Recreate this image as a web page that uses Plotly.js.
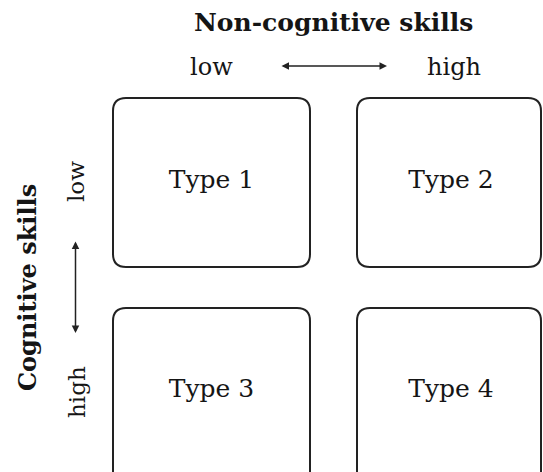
<!DOCTYPE html>
<html>
<head>
<meta charset="utf-8">
<script src="https://cdn.plot.ly/plotly-3.0.1.min.js"></script>
<style>html,body{margin:0;padding:0;background:#fff;}#chart{width:543px;height:472px;}</style>
</head>
<body>
<div id="chart"></div>
<script>
// ---- data ----
const types = ["Type 1", "Type 2", "Type 3", "Type 4"];
const typeCol = [0, 1, 0, 1];   // non-cognitive level index
const typeRow = [0, 0, 1, 1];   // cognitive level index
const nonCogLevels = ["low", "high"];
const cogLevels = ["low", "high"];
const nonCogTitle = "Non-cognitive skills";
const cogTitle = "Cognitive skills";

// ---- layout geometry (pixel-like axis units) ----
const colBounds = [[113, 310], [357, 541]];
const rowBounds = [[98, 267], [308, 485]];
const colText = [211.5, 451];
const rowText = [182, 391];
const FONT = "DejaVu Serif";
const INK = "#151515";

function rr(x0, y0, x1, y1, r) {
  return `M${x0 + r},${y0} L${x1 - r},${y0} Q${x1},${y0} ${x1},${y0 + r} ` +
         `L${x1},${y1 - r} Q${x1},${y1} ${x1 - r},${y1} L${x0 + r},${y1} ` +
         `Q${x0},${y1} ${x0},${y1 - r} L${x0},${y0 + r} Q${x0},${y0} ${x0 + r},${y0} Z`;
}

const shapes = types.map((t, i) => {
  const c = colBounds[typeCol[i]], r = rowBounds[typeRow[i]];
  return {type: "path", xref: "x", yref: "y", path: rr(c[0], r[0], c[1], r[1], 13),
          line: {color: "#222", width: 2}, fillcolor: "rgba(0,0,0,0)"};
});

const trace = {
  type: "scatter", mode: "text",
  x: types.map((t, i) => colText[typeCol[i]]),
  y: types.map((t, i) => rowText[typeRow[i]]),
  text: types,
  textposition: "middle center",
  textfont: {family: FONT, size: 25, color: INK},
  hoverinfo: "skip", showlegend: false
};

const annotations = [
  {x: 333, y: 22, text: "<b>" + nonCogTitle + "</b>", font: {family: FONT, size: 25, color: INK}},
  {x: colText[0], y: 67, text: nonCogLevels[0], font: {family: FONT, size: 24, color: INK}},
  {x: 454, y: 67, text: nonCogLevels[1], font: {family: FONT, size: 24, color: INK}},
  {x: 27, y: 288, text: "<b>" + cogTitle + "</b>", textangle: -90, font: {family: FONT, size: 24, color: INK}},
  {x: 76, y: 182, text: cogLevels[0], textangle: -90, font: {family: FONT, size: 23, color: INK}},
  {x: 77, y: 392, text: cogLevels[1], textangle: -90, font: {family: FONT, size: 23, color: INK}},
  // arrows
  {x: 387, y: 66, ax: 280, ay: 66, axref: "x", ayref: "y", text: "", showarrow: true,
   arrowhead: 2, startarrowhead: 2, arrowside: "end+start", arrowsize: 1, startarrowsize: 1,
   arrowwidth: 1.5, arrowcolor: "#222", standoff: 0, startstandoff: 0},
  {x: 75.5, y: 333, ax: 75.5, ay: 240, axref: "x", ayref: "y", text: "", showarrow: true,
   arrowhead: 2, startarrowhead: 2, arrowside: "end+start", arrowsize: 1, startarrowsize: 1,
   arrowwidth: 1.5, arrowcolor: "#222", standoff: 0, startstandoff: 0}
].map(a => Object.assign({xref: "x", yref: "y", showarrow: false, xanchor: "center", yanchor: "middle"}, a));

const layout = {
  width: 543, height: 472,
  margin: {l: 0, r: 0, t: 0, b: 0, pad: 0},
  paper_bgcolor: "#fff", plot_bgcolor: "#fff",
  xaxis: {range: [0, 543], visible: false, fixedrange: true},
  yaxis: {range: [472, 0], visible: false, fixedrange: true},
  shapes: shapes, annotations: annotations, showlegend: false
};

Plotly.newPlot("chart", [trace], layout, {staticPlot: true, displayModeBar: false});
</script>
</body>
</html>
